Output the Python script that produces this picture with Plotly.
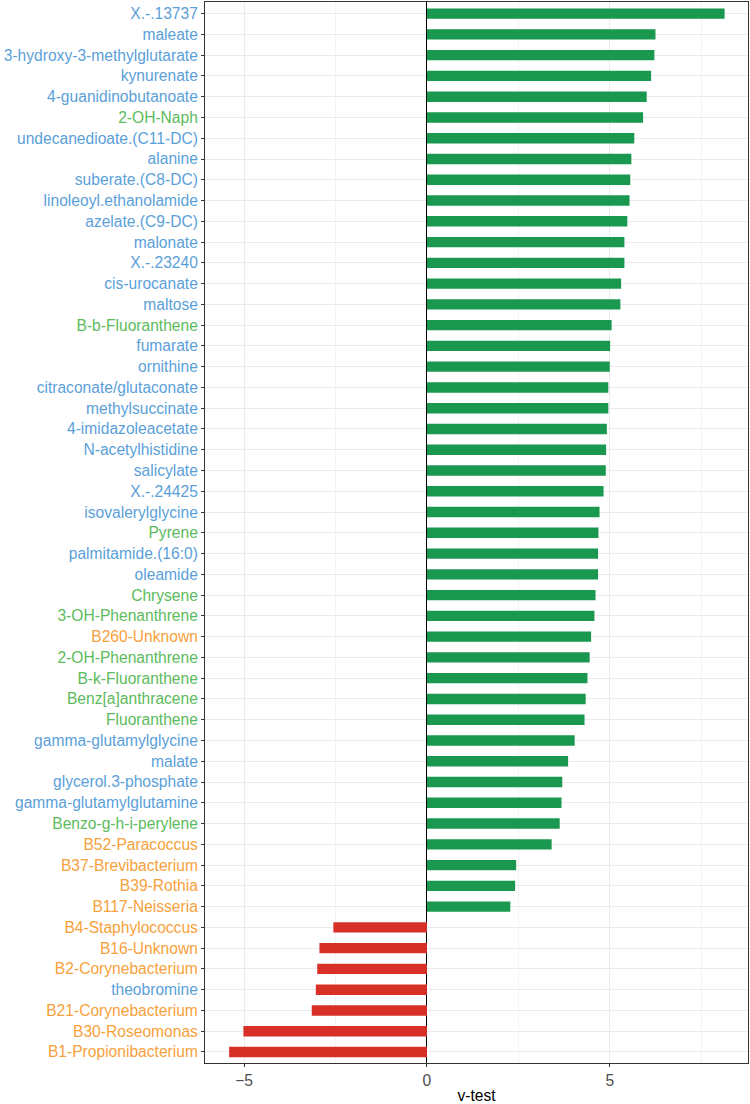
import plotly.graph_objects as go

# Top-to-bottom order as shown in the chart
names = [
    "X.-.13737", "maleate", "3-hydroxy-3-methylglutarate", "kynurenate",
    "4-guanidinobutanoate", "2-OH-Naph", "undecanedioate.(C11-DC)", "alanine",
    "suberate.(C8-DC)", "linoleoyl.ethanolamide", "azelate.(C9-DC)", "malonate",
    "X.-.23240", "cis-urocanate", "maltose", "B-b-Fluoranthene", "fumarate",
    "ornithine", "citraconate/glutaconate", "methylsuccinate", "4-imidazoleacetate",
    "N-acetylhistidine", "salicylate", "X.-.24425", "isovalerylglycine", "Pyrene",
    "palmitamide.(16:0)", "oleamide", "Chrysene", "3-OH-Phenanthrene", "B260-Unknown",
    "2-OH-Phenanthrene", "B-k-Fluoranthene", "Benz[a]anthracene", "Fluoranthene",
    "gamma-glutamylglycine", "malate", "glycerol.3-phosphate",
    "gamma-glutamylglutamine", "Benzo-g-h-i-perylene", "B52-Paracoccus",
    "B37-Brevibacterium", "B39-Rothia", "B117-Neisseria", "B4-Staphylococcus",
    "B16-Unknown", "B2-Corynebacterium", "theobromine", "B21-Corynebacterium",
    "B30-Roseomonas", "B1-Propionibacterium",
]

vtest = [
    8.14, 6.25, 6.22, 6.13, 6.01, 5.91, 5.67, 5.59, 5.56, 5.54, 5.48, 5.40,
    5.40, 5.31, 5.29, 5.05, 5.01, 5.00, 4.96, 4.96, 4.92, 4.90, 4.89, 4.83,
    4.72, 4.69, 4.68, 4.68, 4.61, 4.58, 4.49, 4.45, 4.39, 4.34, 4.31, 4.04,
    3.86, 3.70, 3.68, 3.63, 3.41, 2.44, 2.41, 2.28, -2.56, -2.94, -3.00,
    -3.04, -3.15, -5.02, -5.41,
]

# label group: M = metabolite, P = PAH, B = bacteria
groups = [
    "M", "M", "M", "M", "M", "P", "M", "M", "M", "M", "M", "M",
    "M", "M", "M", "P", "M", "M", "M", "M", "M", "M", "M", "M",
    "M", "P", "M", "M", "P", "P", "B", "P", "P", "P", "P", "M",
    "M", "M", "M", "P", "B", "B", "B", "B", "B", "B", "B", "M",
    "B", "B", "B",
]

group_colors = {"M": "#5b9fd9", "P": "#5cbb5c", "B": "#f7a13c"}
bar_pos = "#1a9850"
bar_neg = "#d73027"

bar_colors = [bar_pos if v >= 0 else bar_neg for v in vtest]
ticktext = [f'<span style="color:{group_colors[g]}">{n}</span>' for n, g in zip(names, groups)]

fig = go.Figure(
    go.Bar(
        x=vtest,
        y=names,
        orientation="h",
        marker=dict(color=bar_colors, line=dict(width=0)),
        width=0.5,
        hoverinfo="x+y",
    )
)

fig.update_layout(
    width=750,
    height=1104,
    margin=dict(l=205, r=2, t=2, b=41, autoexpand=False),
    plot_bgcolor="white",
    paper_bgcolor="white",
    font=dict(family="Liberation Sans, Arial, sans-serif", size=15.6, color="#4d4d4d"),
    showlegend=False,
    bargap=0.5,
)

fig.update_xaxes(
    automargin=False,
    range=[-6.07, 8.78],
    tick0=0,
    dtick=5,
    showgrid=True,
    gridcolor="#ebebeb",
    gridwidth=1,
    minor=dict(dtick=2.5, tick0=0, showgrid=True, gridcolor="#f3f3f3", gridwidth=0.6),
    zeroline=True,
    zerolinecolor="#000000",
    zerolinewidth=1,
    showline=True,
    linecolor="#333333",
    linewidth=1,
    mirror=True,
    ticks="outside",
    ticklen=3,
    tickcolor="#333333",
    tickfont=dict(size=15.6, color="#4d4d4d"),
    title=dict(text="v-test", font=dict(size=15.6, color="#000000"), standoff=2),
)

fig.update_yaxes(
    automargin=False,
    type="category",
    categoryorder="array",
    categoryarray=names[::-1],
    range=[-0.53, len(names) - 0.44],
    tickmode="array",
    tickvals=names,
    ticktext=ticktext,
    showgrid=True,
    gridcolor="#ebebeb",
    gridwidth=1,
    showline=True,
    linecolor="#333333",
    linewidth=1,
    mirror=True,
    ticks="outside",
    ticklen=3,
    tickcolor="#333333",
    tickfont=dict(size=15.6),
)

fig.write_html(
    "out.html",
    config={"displayModeBar": False},
    post_script="document.body.style.margin='0';document.body.style.overflow='hidden';",
)
